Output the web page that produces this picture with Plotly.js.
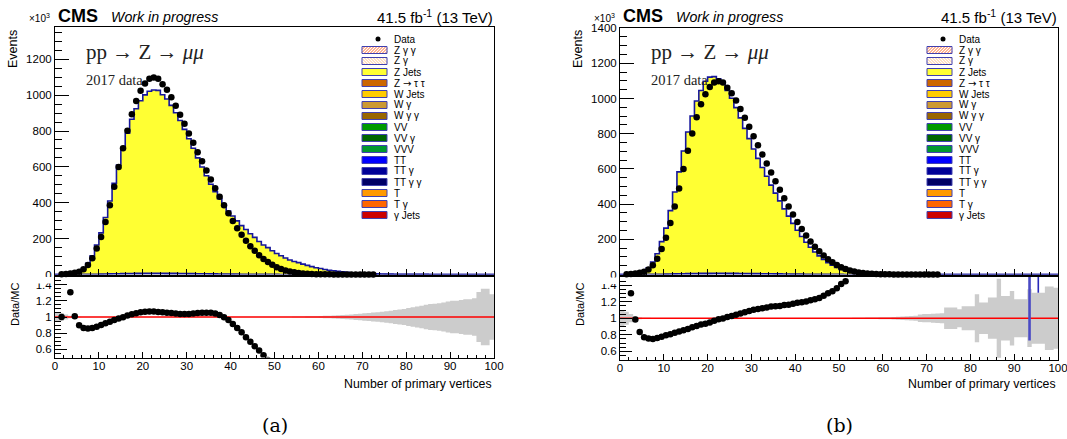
<!DOCTYPE html>
<html>
<head>
<meta charset="utf-8">
<script src="https://cdn.plot.ly/plotly-3.0.1.min.js"></script>
<style>
html,body{margin:0;padding:0;background:#ffffff;}
#plot{width:1067px;height:439px;}
</style>
</head>
<body>
<div id="plot"></div>
<script>
// ---------------- DATA (values in units of 10^3 events) ----------------
const nBins = 100;
const xRange = [0, 100];

// 2017 data, number of primary vertices (same data in both panels)
const dataCounts = [
  0, 1, 3, 6, 10, 16, 29, 53, 90, 145,
  209, 293, 386, 489, 599, 704, 802, 894, 968, 1025,
  1065, 1091, 1099, 1091, 1061, 1030, 989, 941, 891, 840,
  786, 734, 682, 631, 580, 530, 481, 433, 386, 341,
  298, 258, 221, 188, 158, 132, 108, 87, 70, 54,
  41, 31, 23, 17, 12, 8.5, 6, 4.2, 2.9, 2.0,
  1.4, 1.0, 0.7, 0.5, 0.35, 0.25, 0.17, 0.12, 0.08, 0.06,
  0.04, 0.03, 0.02, 0, 0, 0, 0, 0, 0, 0,
  0, 0, 0, 0, 0, 0, 0, 0, 0, 0,
  0, 0, 0, 0, 0, 0, 0, 0, 0, 0
];

// Panel (a): Z+jets simulation
const zJetsA = [
  0.2, 1.0, 1.7, 4.6, 9.9, 17.8, 33, 61, 103, 163,
  230, 315, 406, 504, 605, 700, 782, 860, 918, 962,
  995, 1015, 1022, 1020, 996, 972, 937, 896, 853, 804,
  752, 699, 646, 595, 547, 500, 458, 420, 384, 352,
  324, 297, 271, 249, 226, 206, 183, 164, 149, 132,
  117, 104, 92, 81, 72, 66, 58, 51, 44, 38,
  33, 28, 24, 21, 17.5, 14.5, 12, 10, 8.4, 7,
  5.8, 4.9, 4.1, 3.4, 2.8, 2.3, 1.9, 1.6, 1.3, 1.1,
  0.9, 0.75, 0.62, 0.51, 0.42, 0.35, 0.29, 0.24, 0.2, 0.16,
  0.13, 0.11, 0.09, 0.075, 0.06, 0.05, 0.04, 0.033, 0.027, 0.022
];
// Panel (b): Z+jets simulation (reweighted)
const zJetsB = [
  0.1, 0.4, 2.3, 6.1, 12, 20.8, 38, 70, 117, 185,
  261, 360, 465, 579, 697, 805, 895, 980, 1040, 1092,
  1115, 1118, 1106, 1086, 1040, 995, 942, 884, 825, 767,
  708, 655, 604, 554, 504, 459, 415, 370, 329, 288,
  249, 214, 182, 153, 127, 105, 84, 66, 52, 39,
  28.5, 21, 14, 9, 5.5, 3.3, 2.0, 1.2, 0.75, 0.45,
  0.3, 0.2, 0.13, 0.09, 0.06, 0.04, 0.03, 0.02, 0.015, 0.01,
  0.008, 0.006, 0.005, 0.004, 0.003, 0.0025, 0.002, 0.0018, 0.0016, 0.0014,
  0.0012, 0.001, 0.0009, 0.0008, 0.0007, 0.0006, 0.0005, 0.0005, 0.0004, 0.0004,
  0.0003, 0.0003, 0.0003, 0.0002, 0.0002, 0.0002, 0.0002, 0.0001, 0.0001, 0.0001
];
// Sum of the small backgrounds (TT, VV, W ...) stacked below Z+jets
const otherBkg = [
  0, 0, 0, 0, 0, 0, 0.5, 0.8, 1.2, 1.7,
  2.3, 2.9, 3.5, 4.1, 4.6, 5.1, 5.5, 5.9, 6.2, 6.4,
  6.6, 6.7, 6.7, 6.7, 6.6, 6.4, 6.2, 6.0, 5.7, 5.4,
  5.1, 4.8, 4.5, 4.2, 3.9, 3.6, 3.3, 3.0, 2.7, 2.4,
  2.1, 1.9, 1.7, 1.5, 1.3, 1.1, 0.9, 0.8, 0.7, 0.6,
  0.5, 0.4, 0.3, 0.25, 0.2, 0.15, 0.1, 0.08, 0.06, 0.05,
  0.04, 0.03, 0.02, 0.02, 0.01, 0.01, 0, 0, 0, 0,
  0, 0, 0, 0, 0, 0, 0, 0, 0, 0,
  0, 0, 0, 0, 0, 0, 0, 0, 0, 0,
  0, 0, 0, 0, 0, 0, 0, 0, 0, 0
];
// Relative MC statistical uncertainty (half width of grey band in ratio)
const relErrA = [
  0.06, 0.05, 0.03, 0.015, 0.01, 0.006, 0.004, 0.003, 0.002, 0.002,
  0.002, 0.002, 0.002, 0.002, 0.002, 0.002, 0.002, 0.002, 0.002, 0.002,
  0.002, 0.002, 0.002, 0.002, 0.002, 0.002, 0.002, 0.002, 0.002, 0.002,
  0.002, 0.002, 0.002, 0.002, 0.002, 0.002, 0.002, 0.002, 0.002, 0.002,
  0.002, 0.002, 0.002, 0.002, 0.002, 0.002, 0.002, 0.002, 0.002, 0.002,
  0.003, 0.003, 0.004, 0.004, 0.005, 0.006, 0.007, 0.008, 0.009, 0.01,
  0.012, 0.014, 0.016, 0.019, 0.022, 0.025, 0.028, 0.032, 0.036, 0.04,
  0.045, 0.05, 0.055, 0.06, 0.065, 0.07, 0.077, 0.085, 0.093, 0.1,
  0.11, 0.12, 0.13, 0.14, 0.15, 0.16, 0.165, 0.17, 0.18, 0.19,
  0.2, 0.2, 0.21, 0.22, 0.22, 0.23, 0.31, 0.35, 0.35, 0.28
];
const relErrB = [
  0.1, 0.08, 0.05, 0.025, 0.012, 0.007, 0.005, 0.004, 0.003, 0.003,
  0.003, 0.003, 0.003, 0.003, 0.003, 0.003, 0.003, 0.003, 0.003, 0.003,
  0.003, 0.003, 0.003, 0.003, 0.003, 0.003, 0.003, 0.003, 0.003, 0.003,
  0.003, 0.003, 0.003, 0.003, 0.003, 0.003, 0.003, 0.003, 0.003, 0.003,
  0.003, 0.003, 0.003, 0.003, 0.003, 0.003, 0.003, 0.003, 0.003, 0.003,
  0.003, 0.004, 0.004, 0.005, 0.006, 0.007, 0.008, 0.009, 0.01, 0.011,
  0.012, 0.013, 0.015, 0.017, 0.02, 0.023, 0.026, 0.03, 0.045, 0.05,
  0.05, 0.055, 0.058, 0.06, 0.13, 0.13, 0.13, 0.11, 0.145, 0.145,
  0.145, 0.29, 0.19, 0.19, 0.25, 0.25, 0.48, 0.27, 0.27, 0.33,
  0.23, 0.23, 0.23, 0.35, 0.31, 0.31, 0.31, 0.385, 0.385, 0.37
];
// Ratio error bars of off-scale points in panel (b)
const offScaleBinsB = [93.5, 95.5];
const offScaleLowB = [0.73, 1.31];
const offScaleHighB = [1.7, 1.7];

// Legend entries
const legendLabels = ['Data', 'Z γ γ', 'Z γ', 'Z Jets',
  'Z <span style="font-family:DejaVu Sans">→</span> τ τ', 'W Jets', 'W γ', 'W γ γ',
  'VV', 'VV γ', 'VVV', 'TT', 'TT γ', 'TT γ γ', 'T', 'T γ', 'γ Jets'];
const legendFills = [null, 'hatch/', 'hatch\\', '#ffff33', '#cc6600', '#ffcc00', '#cc9933', '#996600',
  '#009900', '#006600', '#00992e', '#0000ff', '#000099', '#000066', '#ff9900', '#ff6600', '#cc0000'];

// ---------------- LAYOUT GEOMETRY ----------------
const W = 1067, H = 439;
const PX = v => v / W;
const PY = v => 1 - v / H;
const panels = [
  {id: 'a', ox: 0,   x0: 55,  x1: 494,  mTop: 27, mBot: 274.5, rTop: 276.5, rBot: 357.5, yMax: 1380,
   zj: zJetsA, err: relErrA, xa: 'x', ya: 'y', xr: 'x2', yr: 'y2', label: '(a)'},
  {id: 'b', ox: 565, x0: 620, x1: 1058, mTop: 28, mBot: 274.5, rTop: 277, rBot: 359.5, yMax: 1401,
   zj: zJetsB, err: relErrB, xa: 'x3', ya: 'y3', xr: 'x4', yr: 'y4', label: '(b)'}
];

const edges = Array.from({length: nBins + 1}, (_, i) => i);
const centers = Array.from({length: nBins}, (_, i) => i + 0.5);
const stepY = arr => arr.concat([arr[arr.length - 1]]);

const traces = [];
const annotations = [];
const shapes = [];
const layout = {
  width: W, height: H, autosize: false,
  margin: {l: 0, r: 0, t: 0, b: 0, pad: 0},
  paper_bgcolor: '#ffffff', plot_bgcolor: '#ffffff',
  showlegend: false,
  font: {family: 'Liberation Sans, Arial, sans-serif', color: '#000', size: 11.5},
};

const tickFont = {family: 'Liberation Sans, Arial, sans-serif', size: 11.5, color: '#000'};
function baseAxis() {
  return {showgrid: false, zeroline: false, showline: true, mirror: true, linecolor: '#000', linewidth: 1,
    ticks: 'inside', tickcolor: '#000', tickwidth: 1, tickfont: tickFont, fixedrange: true,
    ticklabeloverflow: 'allow'};
}

function ann(text, x, y, opts) {
  annotations.push(Object.assign({text: text, x: PX(x), y: PY(y), xref: 'paper', yref: 'paper',
    showarrow: false, xanchor: 'left', yanchor: 'middle',
    font: {family: 'Liberation Sans, Arial, sans-serif', size: 11, color: '#000'}}, opts || {}));
}

function hatchLines(x0, y0, x1, y1, dir, spacing, color) {
  const h = y1 - y0;
  for (let t = x0 - h; t < x1; t += spacing) {
    const sA = Math.max(0, (x0 - t) / h), sB = Math.min(1, (x1 - t) / h);
    if (sB <= sA) continue;
    let ya, yb;
    if (dir === '/') { ya = y1 - sA * h; yb = y1 - sB * h; }
    else { ya = y0 + sA * h; yb = y0 + sB * h; }
    shapes.push({type: 'line', xref: 'paper', yref: 'paper',
      x0: PX(t + sA * h), x1: PX(t + sB * h), y0: PY(ya), y1: PY(yb),
      line: {color: color, width: 1}});
  }
}

panels.forEach((p, k) => {
  const n = k === 0 ? '' : '3';
  const nr = k === 0 ? '2' : '4';
  const total = p.zj.map((v, i) => v + otherBkg[i]);

  // axes
  const xm = Object.assign(baseAxis(), {domain: [PX(p.x0), PX(p.x1)], range: xRange, anchor: p.ya,
    showticklabels: false, dtick: 10, tick0: 0, ticklen: 6,
    minor: {ticks: 'inside', ticklen: 3, dtick: 2, tickcolor: '#000', tickwidth: 1, showgrid: false}});
  const ym = Object.assign(baseAxis(), {domain: [PY(p.mBot), PY(p.mTop)], range: [0, p.yMax], anchor: p.xa,
    dtick: 200, tick0: 0, ticklen: 14,
    minor: {ticks: 'inside', ticklen: 7, dtick: 50, tickcolor: '#000', tickwidth: 1, showgrid: false}});
  const xr = Object.assign(baseAxis(), {domain: [PX(p.x0), PX(p.x1)], range: xRange, anchor: p.yr,
    dtick: 10, tick0: 0, ticklen: 6, ticklabelstandoff: -2,
    minor: {ticks: 'inside', ticklen: 3, dtick: 2, tickcolor: '#000', tickwidth: 1, showgrid: false}});
  const yr = Object.assign(baseAxis(), {domain: [PY(p.rBot), PY(p.rTop)], range: [0.5, 1.5], anchor: p.xr,
    dtick: 0.2, tick0: 0, ticklen: 12,
    minor: {ticks: 'inside', ticklen: 6, dtick: 0.05, tickcolor: '#000', tickwidth: 1, showgrid: false}});
  layout['xaxis' + n] = xm;
  layout['yaxis' + n] = ym;
  layout['xaxis' + nr] = xr;
  layout['yaxis' + nr] = yr;

  // stacked MC (Z Jets on top of small backgrounds)
  traces.push({type: 'scatter', mode: 'lines', x: edges, y: stepY(total), xaxis: p.xa, yaxis: p.ya,
    line: {shape: 'hv', color: '#16169c', width: 1.6}, fill: 'tozeroy', fillcolor: '#ffff33',
    hoverinfo: 'skip'});
  traces.push({type: 'scatter', mode: 'lines', x: edges, y: stepY(otherBkg), xaxis: p.xa, yaxis: p.ya,
    line: {shape: 'hv', color: '#16169c', width: 1.6}, fill: 'tozeroy', fillcolor: '#0000ff',
    hoverinfo: 'skip'});
  // data
  traces.push({type: 'scatter', mode: 'markers', x: centers, y: dataCounts.map(v => v > 0 ? v : null),
    xaxis: p.xa, yaxis: p.ya, marker: {color: '#000', size: 6.5}, cliponaxis: false, hoverinfo: 'skip'});

  // ratio: MC stat band
  traces.push({type: 'scatter', mode: 'lines', x: edges, y: stepY(p.err.map(e => 1 - e)),
    xaxis: p.xr, yaxis: p.yr, line: {shape: 'hv', width: 0, color: '#cccccc'}, hoverinfo: 'skip'});
  traces.push({type: 'scatter', mode: 'lines', x: edges, y: stepY(p.err.map(e => 1 + e)),
    xaxis: p.xr, yaxis: p.yr, line: {shape: 'hv', width: 0, color: '#cccccc'}, fill: 'tonexty',
    fillcolor: '#cccccc', hoverinfo: 'skip'});
  // unity line
  traces.push({type: 'scatter', mode: 'lines', x: xRange, y: [1, 1], xaxis: p.xr, yaxis: p.yr,
    line: {color: '#ff0000', width: 1.6}, hoverinfo: 'skip'});
  // ratio points
  const ratio = dataCounts.map((d, i) => (d > 0 && total[i] > 0) ? d / total[i] : null);
  traces.push({type: 'scatter', mode: 'markers', x: centers, y: ratio, xaxis: p.xr, yaxis: p.yr,
    marker: {color: '#000', size: 6.5}, cliponaxis: true, hoverinfo: 'skip'});
  if (p.id === 'b') {
    offScaleBinsB.forEach((xb, j) => {
      traces.push({type: 'scatter', mode: 'lines', x: [xb, xb], y: [offScaleLowB[j], offScaleHighB[j]],
        xaxis: p.xr, yaxis: p.yr, line: {color: j === 0 ? '#4a4ac4' : '#2a2ab8', width: j === 0 ? 2.6 : 1.6},
        hoverinfo: 'skip'});
    });
  }

  // cover lower half of the "0" label (ratio pad overlaps main pad)
  shapes.push({type: 'rect', xref: 'paper', yref: 'paper', x0: PX(p.x0 - 45), x1: PX(p.x0 - 1),
    y0: PY(p.rTop + 7), y1: PY(p.rTop + 0.6), line: {width: 0}, fillcolor: '#ffffff', layer: 'above'});

  // texts
  const ox = p.ox;
  ann('×10<sup>3</sup>', 52 + ox, 18, {xanchor: 'right', font: {family: 'Liberation Sans', size: 10, color: '#000'}});
  ann('<b>CMS</b>', 55.5 + ox, 15.5, {font: {family: 'Liberation Sans', size: 18, color: '#000'}});
  ann('<i>Work in progress</i>', 109 + ox, 16.5, {font: {family: 'Liberation Sans', size: 14.2, color: '#000'}});
  ann('41.5 fb<sup>-1</sup> (13 TeV)', p.x1 + 1, 17, {xanchor: 'right', font: {family: 'Liberation Sans', size: 15, color: '#000'}});
  ann('Events', 13 + ox, 28, {xanchor: 'center', yanchor: 'top', textangle: -90, font: {family: 'Liberation Sans', size: 12.5, color: '#000'}});
  ann('Data/MC', 15 + ox, 305, {xanchor: 'center', yanchor: 'middle', textangle: -90, font: {family: 'Liberation Sans', size: 11, color: '#000'}});
  ann('pp → Z → <i>μμ</i>', 84 + ox, 52, {font: {family: 'Liberation Serif, Times New Roman, serif', size: 21, color: '#222'}});
  ann('2017 data', 84 + ox, 80, {font: {family: 'Liberation Serif, Times New Roman, serif', size: 14.5, color: '#222'}});
  ann('Number of primary vertices', p.x1, 384, {xanchor: 'right', font: {family: 'Liberation Sans', size: 12.3, color: '#000'}});
  ann(p.label, (p.x0 + p.x1) / 2, 425, {xanchor: 'center', font: {family: 'DejaVu Serif, Liberation Serif, serif', size: 19, color: '#000'}});

  // legend
  const bx0 = 362 + ox, bx1 = 387 + ox, tx = 392 + ox;
  legendLabels.forEach((lab, r) => {
    const yc = 39 + 11 * r;
    ann(lab, tx, yc, {font: {family: 'Liberation Sans', size: 10, color: '#000'}});
    const f = legendFills[r];
    if (f === null) {
      shapes.push({type: 'circle', xref: 'paper', yref: 'paper', x0: PX(bx0 + 13.5), x1: PX(bx0 + 18.5),
        y0: PY(yc + 2.5), y1: PY(yc - 2.5), fillcolor: '#000', line: {width: 0}});
      return;
    }
    const y0 = yc - 3.5, y1 = yc + 3.5;
    if (f.startsWith('hatch')) {
      shapes.push({type: 'rect', xref: 'paper', yref: 'paper', x0: PX(bx0), x1: PX(bx1), y0: PY(y1), y1: PY(y0),
        fillcolor: '#ffffff', line: {width: 0}});
      const dir = f.slice(5);
      hatchLines(bx0, y0, bx1, y1, dir, 3, dir === '/' ? '#ff6a2a' : '#ffc48a');
      shapes.push({type: 'rect', xref: 'paper', yref: 'paper', x0: PX(bx0), x1: PX(bx1), y0: PY(y1), y1: PY(y0),
        line: {color: '#4040b0', width: 1}});
    } else {
      shapes.push({type: 'rect', xref: 'paper', yref: 'paper', x0: PX(bx0), x1: PX(bx1), y0: PY(y1), y1: PY(y0),
        fillcolor: f, line: {color: '#4040b0', width: 1}});
    }
  });
});

layout.annotations = annotations;
layout.shapes = shapes;

Plotly.newPlot('plot', traces, layout, {staticPlot: true, displayModeBar: false});
</script>
</body>
</html>
